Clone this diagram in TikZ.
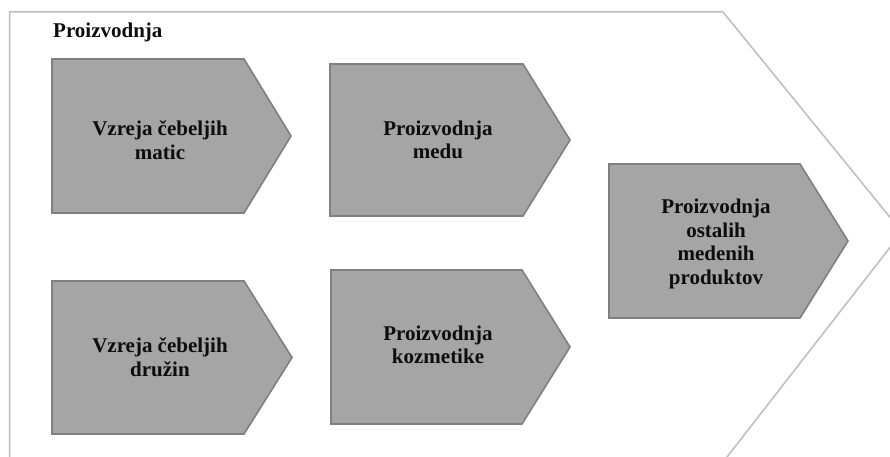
\documentclass[tikz,border=0pt]{standalone}
\usepackage{fontspec}
\setmainfont{Liberation Serif}
\begin{document}
\begin{tikzpicture}[x=1pt,y=-1pt,
  chevbox/.style={fill=boxgray,draw=boxedge,line width=1.6pt,line join=miter},
  boxtext/.style={font=\bfseries\fontsize{21}{23.5}\selectfont,text=textblack,align=center,inner sep=0pt},
  outer/.style={draw=outergray,line width=1.5pt,line join=miter}]
\definecolor{boxgray}{HTML}{A5A5A5}
\definecolor{boxedge}{HTML}{7F7F7F}
\definecolor{outergray}{HTML}{BDBDBD}
\definecolor{textblack}{HTML}{0D0D0D}
\useasboundingbox (0,0) rectangle (890,457);
\fill[white] (0,0) rectangle (890,457);
\begin{scope}
\clip (0,0) rectangle (890,457);
\draw[outer] (9.5,475) -- (9.5,12) -- (723,12) -- (902,232) -- (713,475);
\end{scope}
\node[boxtext,anchor=base west] (title) at (53,38) {Proizvodnja};
% box 1
\draw[chevbox] (52,59) -- (244,59) -- (291,136) -- (244,213) -- (52,213) -- cycle;
\node[boxtext] (b1) at (160,140) {Vzreja čebeljih\\matic};
% box 2
\draw[chevbox] (330,64) -- (523,64) -- (570,140) -- (523,216) -- (330,216) -- cycle;
\node[boxtext] (b2) at (438,140) {Proizvodnja\\medu};
% box 3
\draw[chevbox] (52,281) -- (244,281) -- (292,357.5) -- (244,434) -- (52,434) -- cycle;
\node[boxtext] (b3) at (160,357) {Vzreja čebeljih\\družin};
% box 4
\draw[chevbox] (331,270) -- (522,270) -- (570,347) -- (522,424) -- (331,424) -- cycle;
\node[boxtext] (b4) at (438,345) {Proizvodnja\\kozmetike};
% box 5
\draw[chevbox] (609,164) -- (800,164) -- (848,241) -- (800,318) -- (609,318) -- cycle;
\node[boxtext] (b5) at (716,244) {Proizvodnja\\ostalih\\medenih\\produktov};
\end{tikzpicture}
\end{document}
